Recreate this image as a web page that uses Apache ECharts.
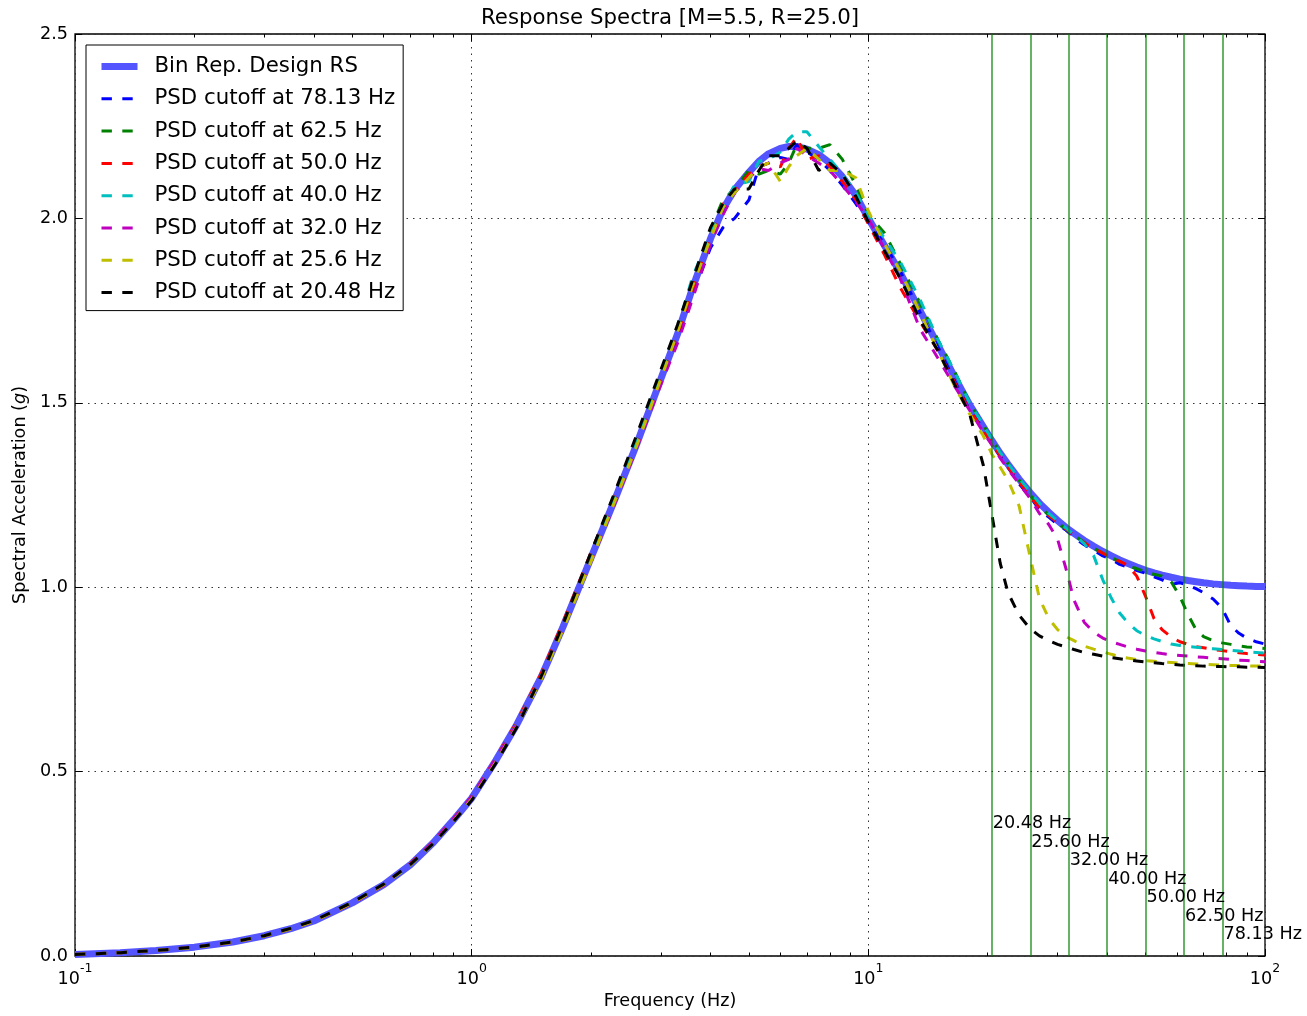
<!DOCTYPE html>
<html><head><meta charset="utf-8">
<script src="https://cdn.jsdelivr.net/npm/echarts@6/dist/echarts.min.js"></script>
<style>html,body{margin:0;padding:0;background:#fff}#c{width:1307px;height:1016px}</style>
</head><body><div id="c"></div>
<script>
// ---- data ----
const freqs = [
  0.1, 0.13, 0.16, 0.2, 0.25, 0.3, 0.35, 0.4, 0.5, 0.6,
  0.7, 0.8, 0.9, 1.0, 1.15, 1.3, 1.5, 1.7, 2.0, 2.3,
  2.6, 3.0, 3.3, 3.6, 4.0, 4.3, 4.6, 5.0, 5.3, 5.6,
  6.0, 6.3, 6.6, 7.0, 7.5, 8.0, 8.6, 9.3, 10, 11,
  12, 13.5, 15, 16.5, 18, 19.5, 20.5, 21.5, 22.5, 24,
  25.6, 27, 28.5, 30, 31.5, 33, 35, 37, 39, 41,
  43, 45, 47.5, 50, 52.5, 55, 58, 61, 64, 67,
  70, 74, 78, 82, 86, 90, 95, 100
];
const designRS = [
  0.004, 0.009, 0.015, 0.024, 0.038, 0.055, 0.074, 0.095, 0.144, 0.193,
  0.247, 0.307, 0.369, 0.428, 0.530, 0.628, 0.758, 0.893, 1.080, 1.240,
  1.385, 1.565, 1.685, 1.810, 1.945, 2.025, 2.078, 2.125, 2.155, 2.175,
  2.190, 2.195, 2.195, 2.188, 2.173, 2.150, 2.113, 2.062, 2.000, 1.925,
  1.855, 1.750, 1.655, 1.570, 1.495, 1.435, 1.397, 1.363, 1.333, 1.293,
  1.256, 1.228, 1.203, 1.181, 1.162, 1.146, 1.127, 1.111, 1.097, 1.085,
  1.074, 1.065, 1.055, 1.046, 1.039, 1.033, 1.027, 1.022, 1.018, 1.015,
  1.012, 1.009, 1.007, 1.005, 1.004, 1.003, 1.002, 1.002
];
const psd7813 = [
  0.004, 0.009, 0.015, 0.024, 0.038, 0.055, 0.074, 0.095, 0.143, 0.193,
  0.248, 0.306, 0.369, 0.426, 0.528, 0.630, 0.760, 0.890, 1.080, 1.245,
  1.380, 1.560, 1.680, 1.790, 1.920, 1.975, 2.000, 2.050, 2.140, 2.150,
  2.165, 2.160, 2.200, 2.180, 2.160, 2.130, 2.090, 2.040, 1.990, 1.930,
  1.860, 1.745, 1.650, 1.560, 1.480, 1.430, 1.390, 1.355, 1.325, 1.280,
  1.245, 1.210, 1.190, 1.170, 1.155, 1.135, 1.115, 1.100, 1.085, 1.075,
  1.062, 1.055, 1.045, 1.038, 1.028, 1.020, 1.008, 1.012, 1.006, 0.996,
  0.985, 0.968, 0.943, 0.895, 0.875, 0.862, 0.852, 0.846
];
const psd625 = [
  0.004, 0.009, 0.015, 0.024, 0.038, 0.055, 0.075, 0.096, 0.145, 0.194,
  0.247, 0.308, 0.368, 0.430, 0.532, 0.632, 0.762, 0.897, 1.085, 1.250,
  1.390, 1.575, 1.690, 1.820, 1.970, 2.050, 2.080, 2.130, 2.120, 2.130,
  2.120, 2.150, 2.200, 2.190, 2.190, 2.200, 2.160, 2.090, 2.010, 1.960,
  1.880, 1.770, 1.670, 1.585, 1.500, 1.440, 1.400, 1.365, 1.335, 1.290,
  1.250, 1.220, 1.195, 1.175, 1.157, 1.140, 1.122, 1.106, 1.092, 1.080,
  1.070, 1.060, 1.050, 1.042, 1.035, 1.030, 1.015, 0.975, 0.925, 0.885,
  0.866, 0.855, 0.849, 0.845, 0.841, 0.838, 0.836, 0.834
];
const psd500 = [
  0.004, 0.009, 0.015, 0.024, 0.038, 0.055, 0.074, 0.095, 0.144, 0.192,
  0.250, 0.310, 0.372, 0.432, 0.535, 0.635, 0.768, 0.905, 1.095, 1.250,
  1.390, 1.570, 1.685, 1.805, 1.950, 2.040, 2.075, 2.120, 2.140, 2.150,
  2.140, 2.190, 2.220, 2.160, 2.170, 2.140, 2.100, 2.050, 1.985, 1.900,
  1.815, 1.720, 1.640, 1.555, 1.480, 1.425, 1.390, 1.355, 1.325, 1.285,
  1.245, 1.215, 1.195, 1.175, 1.158, 1.140, 1.120, 1.105, 1.092, 1.080,
  1.070, 1.060, 1.030, 0.975, 0.915, 0.885, 0.865, 0.852, 0.845, 0.839,
  0.836, 0.831, 0.828, 0.825, 0.822, 0.820, 0.818, 0.816
];
const psd400 = [
  0.004, 0.009, 0.015, 0.024, 0.038, 0.055, 0.074, 0.095, 0.144, 0.193,
  0.247, 0.308, 0.370, 0.430, 0.532, 0.630, 0.760, 0.895, 1.085, 1.245,
  1.395, 1.580, 1.700, 1.840, 1.960, 2.030, 2.090, 2.100, 2.155, 2.160,
  2.180, 2.215, 2.235, 2.235, 2.195, 2.160, 2.120, 2.070, 2.010, 1.945,
  1.885, 1.780, 1.670, 1.585, 1.500, 1.440, 1.400, 1.365, 1.335, 1.295,
  1.258, 1.228, 1.200, 1.180, 1.160, 1.142, 1.118, 1.085, 1.020, 0.970,
  0.930, 0.905, 0.882, 0.869, 0.860, 0.853, 0.846, 0.842, 0.839, 0.837,
  0.835, 0.833, 0.831, 0.829, 0.827, 0.825, 0.823, 0.821
];
const psd320 = [
  0.004, 0.009, 0.015, 0.024, 0.037, 0.054, 0.073, 0.094, 0.142, 0.192,
  0.248, 0.310, 0.372, 0.432, 0.535, 0.628, 0.755, 0.888, 1.070, 1.230,
  1.375, 1.550, 1.660, 1.780, 1.930, 2.010, 2.070, 2.110, 2.135, 2.130,
  2.150, 2.160, 2.190, 2.170, 2.150, 2.130, 2.090, 2.045, 2.000, 1.915,
  1.840, 1.700, 1.620, 1.545, 1.480, 1.420, 1.385, 1.350, 1.320, 1.280,
  1.240, 1.200, 1.170, 1.130, 1.050, 0.965, 0.905, 0.878, 0.862, 0.852,
  0.845, 0.838, 0.832, 0.827, 0.823, 0.820, 0.817, 0.815, 0.813, 0.811,
  0.810, 0.808, 0.806, 0.804, 0.802, 0.801, 0.799, 0.798
];
const psd256 = [
  0.004, 0.009, 0.015, 0.023, 0.037, 0.054, 0.073, 0.094, 0.143, 0.193,
  0.246, 0.305, 0.366, 0.425, 0.525, 0.622, 0.752, 0.885, 1.070, 1.235,
  1.380, 1.565, 1.690, 1.815, 1.945, 2.030, 2.070, 2.110, 2.140, 2.150,
  2.100, 2.140, 2.170, 2.190, 2.160, 2.130, 2.130, 2.110, 2.020, 1.930,
  1.860, 1.745, 1.640, 1.545, 1.470, 1.410, 1.360, 1.325, 1.290, 1.220,
  1.080, 0.970, 0.915, 0.885, 0.866, 0.855, 0.840, 0.832, 0.825, 0.818,
  0.812, 0.808, 0.804, 0.801, 0.799, 0.797, 0.796, 0.794, 0.793, 0.792,
  0.791, 0.790, 0.789, 0.788, 0.788, 0.787, 0.786, 0.786
];
const psd2048 = [
  0.004, 0.009, 0.015, 0.024, 0.038, 0.055, 0.075, 0.096, 0.145, 0.195,
  0.248, 0.305, 0.365, 0.422, 0.522, 0.620, 0.760, 0.900, 1.095, 1.260,
  1.410, 1.590, 1.710, 1.830, 1.975, 2.040, 2.080, 2.080, 2.130, 2.170,
  2.170, 2.190, 2.210, 2.190, 2.130, 2.150, 2.120, 2.060, 1.990, 1.910,
  1.840, 1.725, 1.640, 1.550, 1.470, 1.330, 1.195, 1.065, 0.985, 0.924,
  0.887, 0.868, 0.855, 0.845, 0.838, 0.831, 0.823, 0.818, 0.813, 0.809,
  0.806, 0.803, 0.800, 0.797, 0.795, 0.793, 0.791, 0.789, 0.788, 0.787,
  0.786, 0.785, 0.785, 0.784, 0.784, 0.783, 0.783, 0.782
];
const seriesNames = [
  'Bin Rep. Design RS',
  'PSD cutoff at 78.13 Hz',
  'PSD cutoff at 62.5 Hz',
  'PSD cutoff at 50.0 Hz',
  'PSD cutoff at 40.0 Hz',
  'PSD cutoff at 32.0 Hz',
  'PSD cutoff at 25.6 Hz',
  'PSD cutoff at 20.48 Hz'
];
const seriesValues = [designRS, psd7813, psd625, psd500, psd400, psd320, psd256, psd2048];
const seriesColors = ['#5555ff', '#0000ff', '#008000', '#ff0000', '#00bfbf', '#bf00bf', '#bfbf00', '#000000'];
const cutoffFreqs = [20.48, 25.6, 32.0, 40.0, 50.0, 62.5, 78.125];
const cutoffLabels = ['20.48 Hz', '25.60 Hz', '32.00 Hz', '40.00 Hz', '50.00 Hz', '62.50 Hz', '78.13 Hz'];
const cutoffLabelY = [0.35, 0.30, 0.25, 0.20, 0.15, 0.10, 0.05];
const minorTickValues = [0.2, 0.3, 0.4, 0.5, 0.6, 0.7, 0.8, 0.9, 2, 3, 4, 5, 6, 7, 8, 9, 20, 30, 40, 50, 60, 70, 80, 90];
const titleText = 'Response Spectra [M=5.5, R=25.0]';

// ---- chart ----
const FONT = 'DejaVu Sans';
const chart = echarts.init(document.getElementById('c'), null, {renderer: 'canvas'});
const dotted = {color: '#333', width: 1, type: [1.5, 5]};

const logAxisBase = {
  type: 'log', logBase: 10, min: 0.1, max: 100, gridIndex: 0,
  axisLine: {show: false}, splitLine: {show: false}, axisLabel: {show: false}
};

const xAxes = [
  Object.assign({}, logAxisBase, {
    position: 'bottom',
    name: 'Frequency (Hz)', nameLocation: 'middle', nameGap: 35,
    nameTextStyle: {fontFamily: FONT, fontSize: 17.6, color: '#000'},
    axisTick: {show: true, inside: true, length: 7, lineStyle: {color: '#000', width: 1}},
    splitLine: {show: true, lineStyle: dotted},
    axisLabel: {
      show: true, margin: 6, color: '#000', fontFamily: FONT, fontSize: 17.6,
      formatter: v => '{b|10}{s|' + Math.round(Math.log10(v)) + '}',
      rich: {
        b: {fontFamily: FONT, fontSize: 17.6, color: '#000', lineHeight: 26, verticalAlign: 'bottom'},
        s: {fontFamily: FONT, fontSize: 12.5, color: '#000', lineHeight: 26, verticalAlign: 'top'}
      }
    }
  }),
  Object.assign({}, logAxisBase, {
    position: 'bottom',
    axisTick: {show: true, inside: true, length: 3.5, customValues: minorTickValues, lineStyle: {color: '#000', width: 1}}
  }),
  Object.assign({}, logAxisBase, {
    position: 'top',
    axisTick: {show: true, inside: true, length: 7, lineStyle: {color: '#000', width: 1}}
  }),
  Object.assign({}, logAxisBase, {
    position: 'top',
    axisTick: {show: true, inside: true, length: 3.5, customValues: minorTickValues, lineStyle: {color: '#000', width: 1}}
  })
];

const yAxes = [
  {
    type: 'value', min: 0, max: 2.5, interval: 0.5, position: 'left', gridIndex: 0,
    name: 'Spectral Acceleration ({i|g})', nameLocation: 'middle', nameGap: 41,
    nameTextStyle: {fontFamily: FONT, fontSize: 17.6, color: '#000',
      rich: {i: {fontFamily: FONT, fontSize: 17.6, fontStyle: 'italic', color: '#000'}}},
    axisLine: {show: false},
    axisTick: {show: true, inside: true, length: 7, lineStyle: {color: '#000', width: 1}},
    splitLine: {show: true, lineStyle: dotted},
    axisLabel: {margin: 7, color: '#000', fontFamily: FONT, fontSize: 17.6, formatter: v => v.toFixed(1)}
  },
  {
    type: 'value', min: 0, max: 2.5, interval: 0.5, position: 'right', gridIndex: 0,
    axisLine: {show: false}, splitLine: {show: false}, axisLabel: {show: false},
    axisTick: {show: true, inside: true, length: 7, lineStyle: {color: '#000', width: 1}}
  }
];

const series = [];
// cutoff vertical lines
series.push({
  type: 'line', name: 'cutoffs', data: [], xAxisIndex: 0, yAxisIndex: 0, z: 2,
  markLine: {
    silent: true, symbol: ['none', 'none'], animation: false,
    label: {show: false},
    lineStyle: {color: 'rgba(0,128,0,0.6)', width: 2, type: 'solid'},
    data: cutoffFreqs.map(f => ({xAxis: f}))
  }
});
seriesNames.forEach((name, k) => {
  const isDesign = k === 0;
  series.push({
    type: 'line', name: name, xAxisIndex: 0, yAxisIndex: 0,
    data: freqs.map((f, i) => [f, seriesValues[k][i]]),
    symbol: 'none', showSymbol: false, smooth: false, animation: false,
    z: isDesign ? 3 : 4,
    lineStyle: {color: seriesColors[k], width: isDesign ? 7 : 3, type: isDesign ? 'solid' : [10.4, 10.4]},
    itemStyle: {color: seriesColors[k]}
  });
});
// cutoff text labels
series.push({
  type: 'scatter', name: 'cutoffText', xAxisIndex: 0, yAxisIndex: 0, z: 5, silent: true,
  symbolSize: 0, animation: false,
  data: cutoffFreqs.map((f, i) => ({value: [f, cutoffLabelY[i]], name: cutoffLabels[i]})),
  label: {
    show: true, position: [0, 0], offset: [1, 7], align: 'left', verticalAlign: 'bottom',
    formatter: p => p.name, color: '#000', opacity: 1, fontFamily: FONT, fontSize: 17.6, lineHeight: 20
  }
});

const option = {
  backgroundColor: '#fff',
  animation: false,
  graphic: [{
    type: 'text', x: 670, y: 18, silent: true,
    style: {text: titleText, align: 'center', verticalAlign: 'middle',
      fontFamily: FONT, fontSize: 21.3, fill: '#000'}
  }],
  grid: {left: 75, right: 42, top: 34, bottom: 60, show: true, borderColor: '#000', borderWidth: 1.3, backgroundColor: 'transparent'},
  legend: {
    orient: 'vertical', left: 86, top: 45, padding: [9.5, 8, 6, 12],
    itemWidth: 36, itemHeight: 14, itemGap: 8.3,
    backgroundColor: '#fff', borderColor: '#000', borderWidth: 1, borderRadius: 0,
    itemStyle: {opacity: 0, borderWidth: 0},
    textStyle: {fontFamily: FONT, fontSize: 21.3, color: '#000', lineHeight: 24, padding: [0, 0, 0, 12]},
    data: seriesNames.map((n, k) => ({name: n, lineStyle: {width: k === 0 ? 7 : 3}}))
  },
  xAxis: xAxes,
  yAxis: yAxes,
  series: series
};
chart.setOption(option);
</script>
</body></html>
